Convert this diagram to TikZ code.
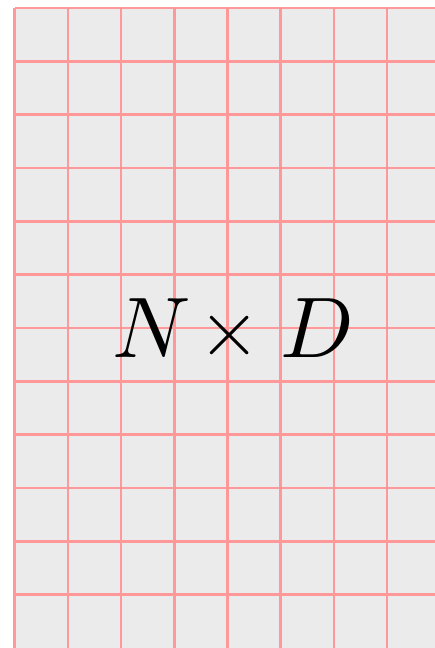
\documentclass[tikz,border=0pt]{standalone}
\begin{document}
\begin{tikzpicture}[x=1pt,y=-1pt,
  gridline/.style={draw=red!40, line width=2.6pt},
  cellfill/.style={fill=black!8},
  sym/.style={scale=8.6, inner sep=0pt, anchor=base}]
\useasboundingbox (0,0) rectangle (435,648);
\fill[cellfill] (14.7,8) rectangle (440,660);
\foreach \k in {0,...,7} {
  \draw[gridline] ({14.7+53.2*\k},8) -- ({14.7+53.2*\k},660);
}
\foreach \k in {0,...,11} {
  \draw[gridline] (14.7,{8+53.33*\k}) -- (440,{8+53.33*\k});
}
\node[sym] (n) at (151.5,357.3) {$N$};
\node[sym, scale=0.93] (times) at (229.5,355.5) {$\times$};
\node[sym] (d) at (317,357.3) {$D$};
\end{tikzpicture}
\end{document}
